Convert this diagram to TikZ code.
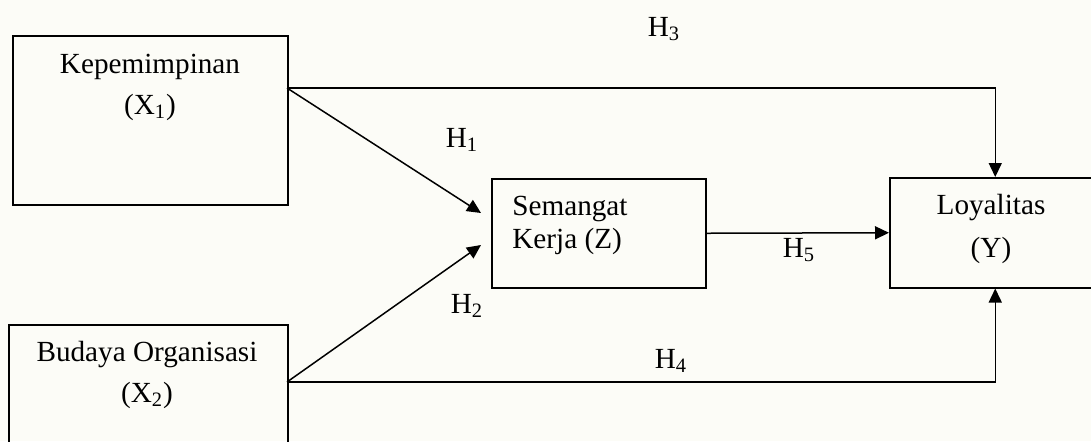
\documentclass[tikz,border=0pt]{standalone}
\usepackage{fontspec}
\setmainfont{Liberation Serif}
\usetikzlibrary{arrows.meta}
\definecolor{bgc}{RGB}{252,252,247}
\tikzset{
  box/.style={draw, line width=0.75pt, anchor=north west, inner sep=0pt},
  txt/.style={anchor=base, inner sep=0pt, font=\fontsize{14.6}{17}\selectfont},
  txtl/.style={anchor=base west, inner sep=0pt, font=\fontsize{14.6}{17}\selectfont},
  arr/.style={line width=0.75pt, -{Triangle[length=7pt,width=6.5pt]}}
}
\begin{document}
\begin{tikzpicture}[x=0.5pt,y=-0.5pt]
\fill[bgc] (0,0) rectangle (1091,441);
\useasboundingbox (0,0) rectangle (1091,441);
% boxes
\node[box, minimum width=137.5pt, minimum height=84.5pt] (k1) at (12,35) {};
\node[box, minimum width=139.5pt, minimum height=65pt] (b2) at (8,324) {};
\node[box, minimum width=107pt, minimum height=54.5pt] (sk) at (491,178) {};
\node[box, minimum width=105.5pt, minimum height=55pt] (ly) at (889,177) {};
% box texts
\node[txt] (k1a) at (150,73) {Kepemimpinan};
\node[txt] (k1b) at (150,114) {(X\textsubscript{1})};
\node[txt] (b2a) at (147,361) {Budaya Organisasi};
\node[txt] (b2b) at (147,402) {(X\textsubscript{2})};
\node[txtl] (ska) at (512,215) {Semangat};
\node[txtl] (skb) at (512,248) {Kerja (Z)};
\node[txt] (lya) at (991,214) {Loyalitas};
\node[txt] (lyb) at (991,257) {(Y)};
% connector points
\coordinate (o1) at (287,88);
\coordinate (o2) at (287,382);
\coordinate (t1) at (481,213);
\coordinate (t2) at (481,245);
% connectors
\draw[arr] (o1) -| (ly.north);
\draw[arr] (o1) -- (t1);
\draw[arr] (o2) -- (t2);
\draw[arr] (o2) -| (ly.south);
\draw[arr] (sk.east) -- (ly.west);
% labels
\node[txt] (h1) at (462,147) {H\textsubscript{1}};
\node[txt] (h2) at (467,313) {H\textsubscript{2}};
\node[txt] (h3) at (664,36) {H\textsubscript{3}};
\node[txt] (h4) at (671,368) {H\textsubscript{4}};
\node[txt] (h5) at (799,257) {H\textsubscript{5}};
\end{tikzpicture}
\end{document}
